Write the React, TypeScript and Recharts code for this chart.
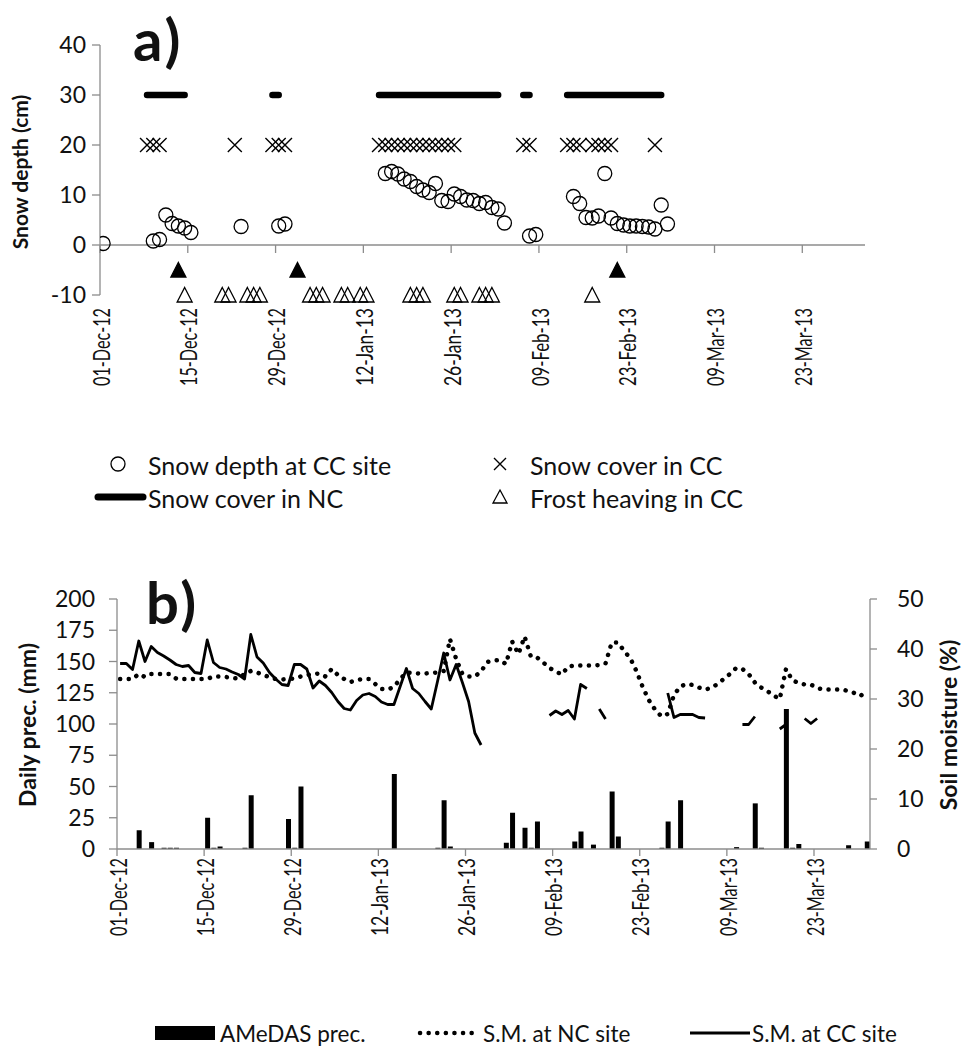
import { Bar, ComposedChart, Line, ReferenceLine, Scatter, XAxis, YAxis } from 'recharts';

const FONT = 'Lato, "Open Sans", sans-serif';
const AXIS_GREY = '#8c8c8c';
const INK = '#111';

// shared date axis (day index from 01-Dec-12)
const tickDays = [0, 14, 28, 42, 56, 70, 84, 98, 112];
const tickLabels = ['01-Dec-12', '15-Dec-12', '29-Dec-12', '12-Jan-13', '26-Jan-13', '09-Feb-13', '23-Feb-13', '09-Mar-13', '23-Mar-13'];

// a) snow
const depthDays = [0, 8, 9, 10, 11, 12, 13, 14, 22, 28, 29, 45, 46, 47, 48, 49, 50, 51, 52, 53, 54, 55, 56, 57, 58, 59, 60, 61, 62, 63, 64, 68, 69, 75, 76, 77, 78, 79, 80, 81, 82, 83, 84, 85, 86, 87, 88, 89, 90];
const depthCm = [0.3, 0.8, 1.1, 6.0, 4.3, 3.8, 3.4, 2.5, 3.7, 3.8, 4.2, 14.3, 14.7, 14.2, 13.2, 12.7, 11.7, 11.0, 10.5, 12.3, 8.9, 8.7, 10.2, 9.7, 9.0, 8.9, 8.3, 8.5, 7.5, 7.2, 4.4, 1.8, 2.1, 9.7, 8.3, 5.5, 5.4, 5.8, 14.3, 5.4, 4.3, 4.0, 3.8, 3.8, 3.7, 3.6, 3.2, 8.0, 4.2];
const ccCoverDays = [7, 8, 9, 21, 27, 28, 29, 44, 45, 46, 47, 48, 49, 50, 51, 52, 53, 54, 55, 56, 67, 68, 74, 75, 76, 78, 79, 80, 81, 88];
const ncCoverSpans = [[7, 13], [27, 28], [44, 63], [67, 68], [74, 89]];
const frostDays = [13, 19, 20, 23, 24, 25, 33, 34, 35, 38, 39, 41, 42, 49, 50, 51, 56, 57, 60, 61, 62, 78];
const heaveDays = [12, 31, 82];
const CC_LEVEL = 20;
const NC_LEVEL = 30;
const FROST_LEVEL = -10;
const HEAVE_LEVEL = -5;

// b) precipitation and soil moisture
const precDays = [3, 5, 7, 8, 9, 14, 15, 16, 20, 21, 27, 28, 29, 44, 51, 52, 53, 62, 63, 65, 66, 67, 73, 74, 76, 79, 80, 87, 88, 90, 99, 102, 103, 107, 108, 109, 117, 120];
const precMm = [15, 5.5, 1, 1, 1, 25, 1, 2, 1, 43, 24, 1, 50, 60, 1, 39, 2, 5, 29, 17, 1, 22, 6, 14, 3.5, 46, 10, 1, 22, 39, 1.5, 36.5, 1, 112, 1, 4, 3, 6];
const ncMoisture = [
  34, 34, 34, 35, 34.4, 35, 35, 35, 35, 34.1,
  34, 34, 34, 34, 34, 34.5, 34.5, 34.4, 34.2, 34.1,
  35, 35.6, 35.3, 34.8, 34.4, 34, 33.9, 34, 34.1, 34.5,
  34.8, 35, 35.1, 34.5, 36, 34.8, 34, 33.4, 33.8, 34,
  34, 33, 32, 31.9, 32.4, 34, 35.3, 35.2, 35.1, 35.1,
  35.2, 35.3, 35.6, 42, 38, 35, 34.5, 34.5, 35.5, 37.4,
  37.7, 37.8, 37, 41.5, 39, 42.5, 38.5, 38.3, 37.3, 36.2,
  35.5, 34.9, 36.5, 36.7, 36.7, 36.7, 36.7, 36.8, 37.1, 41.3,
  41.3, 39.6, 38.1, 35.5, 32.3, 29.7, 27.8, 26.5, 27, 30.8,
  32.5, 33, 32.8, 32.3, 31.9, 32.2, 33, 34, 35, 36.2,
  36, 35, 33.3, 32.3, 31.6, 30.7, 30, 36, 33.8, 33.2,
  32.9, 32.9, 32.2, 31.9, 31.9, 31.9, 31.9, 31.6, 31.2, 30.6,
  31.9,
];
const ccMoisture = [
  37.1, 37.1, 35.9, 41.6, 37.5, 40.5, 39.3, 38.6, 37.8, 36.9,
  36.5, 36.7, 35.3, 35.1, 41.8, 37.3, 36.3, 36.0, 35.4, 34.9,
  34.0, 42.9, 38.4, 37.2, 35.3, 34.0, 32.9, 32.7, 36.9, 36.9,
  36.0, 32.2, 33.6, 32.7, 31.3, 29.5, 28.1, 27.8, 29.7, 30.8,
  31.1, 30.5, 29.4, 28.9, 28.9, 32.5, 36.1, 32.1, 31.1, 29.5,
  28.0, 33.5, 39.2, 33.8, 36.9, 33.3, 29.5, 23.2, 20.8, null,
  null, null, null, null, null, null, null, null, null, 26.7,
  27.6, 26.9, 27.7, 26.0, 32.9, 32.1, null, 28.0, 26.0, null,
  null, null, null, null, null, null, null, null, 31.2, 26.3,
  26.9, 26.9, 26.9, 26.3, 26.2, null, null, null, null, null,
  24.9, 24.9, 26.5, null, null, null, 24.0, 24.9, null, null,
  26.1, 25.1, 26.1, null, null, null, null, null, null, null,
  null,
];

// rows (points sit in the middle of their day)
const snowRows = Array.from({ length: 122 }, (_, d) => ({
  x: d + 0.5,
  nc: ncCoverSpans.some(([a, b]) => d >= a && d <= b) ? NC_LEVEL : null,
}));
const depthPts = depthDays.map((d, i) => ({ x: d + 0.5, y: depthCm[i] }));
const ccPts = ccCoverDays.map((d) => ({ x: d + 0.5, y: CC_LEVEL }));
const frostPts = frostDays.map((d) => ({ x: d + 0.5, y: FROST_LEVEL }));
const heavePts = heaveDays.map((d) => ({ x: d + 0.5, y: HEAVE_LEVEL }));

const precByDay = new Map(precDays.map((d, i) => [d, precMm[i]]));
const moistRows = ncMoisture.map((nc, d) => ({
  x: d + 0.5,
  nc,
  cc: ccMoisture[d],
  prec: precByDay.get(d) ?? null,
}));

const labelFor = (v: number) => tickLabels[tickDays.indexOf(v)] ?? '';

// date labels are tall but narrow in the original, so squeeze them a bit
const DateTick = ({ x, y, payload }: any) => (
  <text
    x={x}
    y={y}
    transform={`rotate(-90 ${x} ${y})`}
    textAnchor="end"
    dy="0.42em"
    fontSize={23}
    textLength={78}
    lengthAdjust="spacingAndGlyphs"
    fill={INK}
    fontFamily={FONT}
  >
    {labelFor(payload.value)}
  </text>
);

const CircleMark = ({ cx, cy }: any) => (
  <circle cx={cx} cy={cy} r={7} fill="none" stroke="#000" strokeWidth={1.3} />
);
const CrossMark = ({ cx, cy }: any) => (
  <path
    d={`M${cx - 7},${cy - 7}L${cx + 7},${cy + 7}M${cx - 7},${cy + 7}L${cx + 7},${cy - 7}`}
    stroke="#000"
    strokeWidth={1.4}
    fill="none"
  />
);
const triangle = (filled: boolean) => ({ cx, cy }: any) => (
  <path
    d={`M${cx},${cy - 7.5}L${cx + 7.5},${cy + 7}L${cx - 7.5},${cy + 7}Z`}
    fill={filled ? '#000' : 'none'}
    stroke="#000"
    strokeWidth={1.3}
    strokeLinejoin="miter"
  />
);

const yTick = { fill: INK, fontSize: 23, fontFamily: FONT };

function SnowPanel() {
  return (
    <ComposedChart width={965} height={420} data={snowRows} margin={{ top: 45, right: 100, bottom: 0, left: 0 }}>
      <XAxis
        type="number"
        dataKey="x"
        domain={[0, 122]}
        ticks={tickDays}
        interval={0}
        tick={<DateTick />}
        axisLine={false}
        tickLine={false}
        tickSize={6}
        tickMargin={7}
        height={125}
        allowDataOverflow
      />
      <YAxis
        type="number"
        domain={[-10, 40]}
        ticks={[-10, 0, 10, 20, 30, 40]}
        interval={0}
        width={100}
        axisLine={{ stroke: AXIS_GREY, strokeWidth: 1.3 }}
        tickLine={{ stroke: AXIS_GREY, strokeWidth: 1.3 }}
        tickSize={8}
        tickMargin={6}
        tick={yTick}
      />
      <ReferenceLine y={0} stroke={AXIS_GREY} strokeWidth={1.3} />
      {tickDays.map((t) => (
        <ReferenceLine
          key={t}
          segment={[{ x: t, y: 0 }, { x: t, y: -1.6 }]}
          stroke={AXIS_GREY}
          strokeWidth={1.3}
        />
      ))}
      <Line
        dataKey="nc"
        stroke="#000"
        strokeWidth={6.5}
        strokeLinecap="round"
        dot={false}
        connectNulls={false}
        isAnimationActive={false}
      />
      <Scatter data={ccPts} dataKey="y" shape={CrossMark} isAnimationActive={false} />
      <Scatter data={depthPts} dataKey="y" shape={CircleMark} isAnimationActive={false} />
      <Scatter data={heavePts} dataKey="y" shape={triangle(true)} isAnimationActive={false} />
      <Scatter data={frostPts} dataKey="y" shape={triangle(false)} isAnimationActive={false} />
    </ComposedChart>
  );
}

function MoisturePanel() {
  return (
    <ComposedChart width={965} height={400} data={moistRows} margin={{ top: 29, right: 0, bottom: 0, left: 0 }}>
      <XAxis
        type="number"
        dataKey="x"
        domain={[0, 121]}
        ticks={tickDays}
        interval={0}
        tick={<DateTick />}
        axisLine={{ stroke: AXIS_GREY, strokeWidth: 1.3 }}
        tickLine={{ stroke: AXIS_GREY, strokeWidth: 1.3 }}
        tickSize={7}
        tickMargin={2}
        height={121}
        allowDataOverflow
      />
      <YAxis
        yAxisId="left"
        type="number"
        domain={[0, 200]}
        ticks={[0, 25, 50, 75, 100, 125, 150, 175, 200]}
        interval={0}
        width={117}
        axisLine={{ stroke: AXIS_GREY, strokeWidth: 1.3 }}
        tickLine={{ stroke: AXIS_GREY, strokeWidth: 1.3 }}
        tickSize={8}
        tickMargin={14}
        tick={yTick}
      />
      <YAxis
        yAxisId="right"
        orientation="right"
        type="number"
        domain={[0, 50]}
        ticks={[0, 10, 20, 30, 40, 50]}
        interval={0}
        width={95}
        axisLine={{ stroke: AXIS_GREY, strokeWidth: 1.3 }}
        tickLine={{ stroke: AXIS_GREY, strokeWidth: 1.3 }}
        tickSize={7}
        tickMargin={20}
        tick={yTick}
      />
      <Bar yAxisId="left" dataKey="prec" fill="#000" barSize={5} isAnimationActive={false} />
      <Line
        yAxisId="right"
        dataKey="nc"
        stroke="#000"
        strokeWidth={4.5}
        strokeDasharray="0.1 8.5"
        strokeLinecap="round"
        dot={false}
        isAnimationActive={false}
      />
      <Line
        yAxisId="right"
        dataKey="cc"
        stroke="#000"
        strokeWidth={2.8}
        strokeLinejoin="round"
        dot={false}
        connectNulls={false}
        isAnimationActive={false}
      />
    </ComposedChart>
  );
}

function Text({ x, y, size, bold = false, rotate = false, spacing = 0, children }: any) {
  return (
    <div
      style={{
        position: 'absolute',
        left: x,
        top: y,
        transform: rotate ? 'translate(-50%, -50%) rotate(-90deg)' : 'translateY(-50%)',
        fontSize: size,
        fontWeight: bold ? 700 : 400,
        fontFamily: FONT,
        letterSpacing: spacing,
        whiteSpace: 'nowrap',
        lineHeight: 1,
        color: INK,
      }}
    >
      {children}
    </div>
  );
}

export default function App() {
  return (
    <div style={{ position: 'absolute', left: 0, top: 0, width: 965, height: 1055, background: '#fff', overflow: 'hidden' }}>
      <div style={{ position: 'absolute', left: 0, top: 0 }}>
        <SnowPanel />
      </div>
      <div style={{ position: 'absolute', left: 0, top: 570 }}>
        <MoisturePanel />
      </div>

      <svg width={965} height={1055} style={{ position: 'absolute', left: 0, top: 0, pointerEvents: 'none' }}>
        {/* legend a */}
        <circle cx={118} cy={464} r={7} fill="none" stroke="#000" strokeWidth={1.3} />
        <path d="M494,458L506,470M494,470L506,458" stroke="#000" strokeWidth={1.4} />
        <line x1={98} y1={497} x2={143} y2={497} stroke="#000" strokeWidth={7} strokeLinecap="round" />
        <path d="M500,490L507,503L493,503Z" fill="none" stroke="#000" strokeWidth={1.3} />
        {/* legend b */}
        <rect x={155} y={1026} width={60} height={14} fill="#000" />
        <line x1={420} y1={1033} x2={478} y2={1033} stroke="#000" strokeWidth={4.5} strokeDasharray="0.1 8.5" strokeLinecap="round" />
        <line x1={690} y1={1033} x2={750} y2={1033} stroke="#000" strokeWidth={2.8} />
      </svg>

      <Text x={133} y={39} size={58} bold spacing={3}>a)</Text>
      <Text x={146} y={602} size={58} bold spacing={3}>b)</Text>
      <Text x={19} y={172} size={21} bold rotate>Snow depth (cm)</Text>
      <Text x={27} y={725} size={23} bold rotate>Daily prec. (mm)</Text>
      <Text x={948} y={725} size={23} bold rotate>Soil moisture (%)</Text>

      <Text x={148} y={465} size={25}>Snow depth at CC site</Text>
      <Text x={530} y={465} size={25}>Snow cover in CC</Text>
      <Text x={148} y={498} size={25}>Snow cover in NC</Text>
      <Text x={530} y={498} size={25}>Frost heaving in CC</Text>

      <Text x={220} y={1034} size={22.5}>AMeDAS prec.</Text>
      <Text x={483} y={1034} size={22.5}>S.M. at NC site</Text>
      <Text x={752} y={1034} size={22.5}>S.M. at CC site</Text>
    </div>
  );
}
